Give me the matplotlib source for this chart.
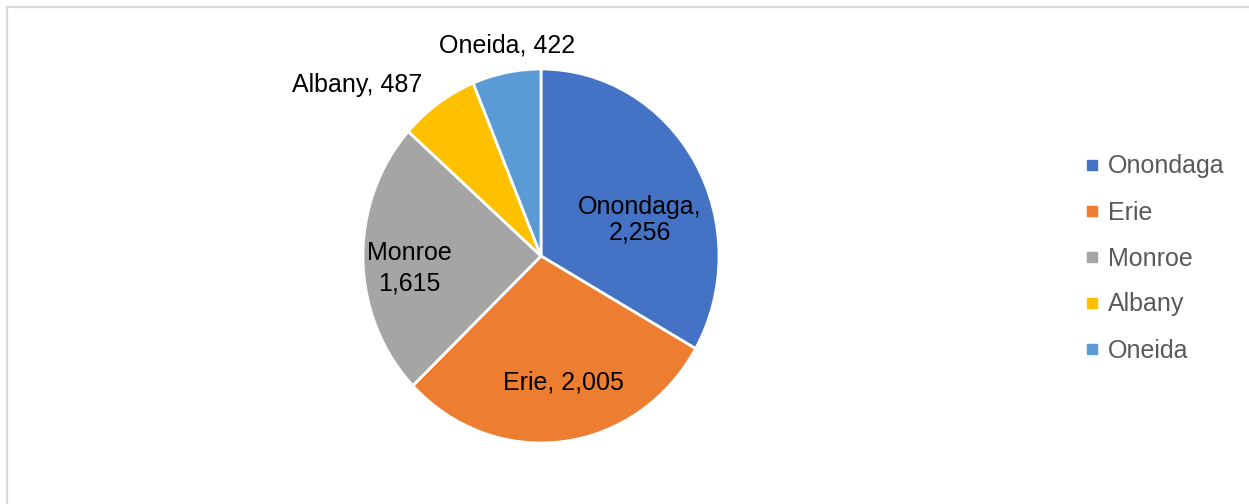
import matplotlib.pyplot as plt
from matplotlib.lines import Line2D

plt.rcParams['font.family'] = ['Liberation Sans', 'DejaVu Sans']

counties = ['Onondaga', 'Erie', 'Monroe', 'Albany', 'Oneida']
counts = [2256, 2005, 1615, 487, 422]
colors = ['#4472C4', '#ED7D31', '#A5A5A5', '#FFC000', '#5B9BD5']

# label text and where each one sits (in pie-radius units)
label_text = ['Onondaga,\n{:,}', 'Erie, {:,}', 'Monroe\n{:,}', 'Albany, {:,}', 'Oneida, {:,}']
label_pos = [(0.556, 0.193), (0.124, -0.679), (-0.742, -0.064), (-1.034, 0.914), (-0.191, 1.128)]
label_spacing = [1.1, 1.1, 1.35, 1.1, 1.1]

W, H = 1249, 504
fig = plt.figure(figsize=(W / 100, H / 100), dpi=100)

# light frame around the chart area (top and left edges show)
fig.add_artist(Line2D([7 / W, 7 / W], [0, 1 - 7 / H], color='#d9d9d9', lw=1.6))
fig.add_artist(Line2D([7 / W, 1], [1 - 7 / H, 1 - 7 / H], color='#d9d9d9', lw=1.6))

cx, cy, rx, ry = 541, 256, 178, 187
ax = fig.add_axes([(cx - rx) / W, (H - cy - ry) / H, 2 * rx / W, 2 * ry / H])
wedges, _ = ax.pie(counts, colors=colors, startangle=90, counterclock=False,
                   wedgeprops=dict(edgecolor='white', linewidth=2))
ax.set_aspect('auto')
ax.set_xlim(-1, 1)
ax.set_ylim(-1, 1)
ax.axis('off')

for txt, val, (x, y), ls in zip(label_text, counts, label_pos, label_spacing):
    ax.text(x, y, txt.format(val), ha='center', va='center', fontsize=18,
            color='black', linespacing=ls, clip_on=False)

handles = [Line2D([], [], marker='s', linestyle='none', markersize=6.5,
                  markerfacecolor=c, markeredgecolor=c) for c in colors]
leg = fig.legend(handles, counties, loc='center left',
                 bbox_to_anchor=(1084 / W, 1 - 258.5 / H), frameon=False,
                 fontsize=18, handlelength=0.6, handletextpad=0.35,
                 labelspacing=0.88, borderpad=0, borderaxespad=0)
for t in leg.get_texts():
    t.set_color('#595959')

fig.savefig('out.png', dpi=100)
